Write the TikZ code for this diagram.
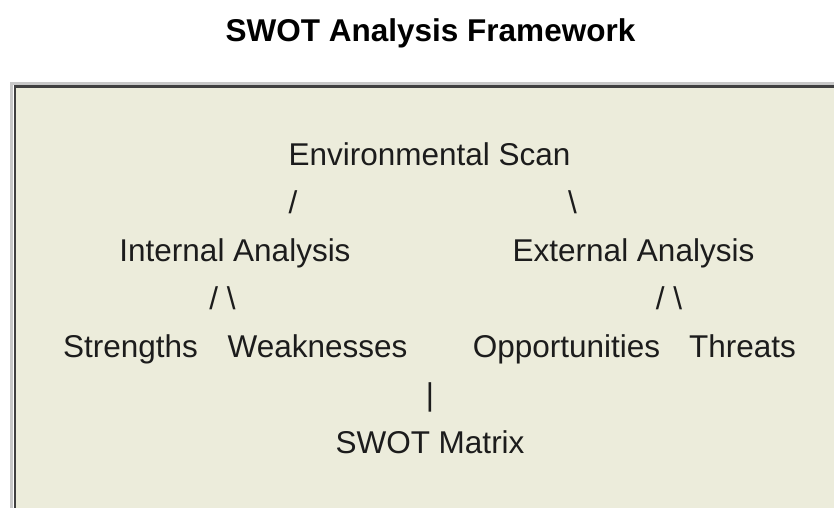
\documentclass[tikz,border=0pt]{standalone}
\usepackage{fontspec}
\setmainfont{Liberation Sans}
\definecolor{panelfill}{RGB}{236,236,219}
\definecolor{outerline}{RGB}{200,200,200}
\definecolor{innerline}{RGB}{64,64,64}
\definecolor{inkcol}{RGB}{28,28,28}
\begin{document}
\begin{tikzpicture}[x=1pt,y=-1pt,
  lbl/.style={anchor=base, inner sep=0pt, text=inkcol, font=\fontsize{31.5}{38}\selectfont},
  ttl/.style={anchor=base, inner sep=0pt, text=black, font=\fontsize{31.5}{38}\selectfont\bfseries}]
\useasboundingbox (0,0) rectangle (834,507);
\fill[white] (0,0) rectangle (834,507);
\begin{scope}
\clip (0,0) rectangle (834,507);
\fill[panelfill] (15,86) rectangle (860,530);
\draw[outerline, line width=3pt] (11.5,83) -- (11.5,530);
\draw[outerline, line width=3pt] (10,83) -- (860,83);
\draw[innerline, line width=2.5pt] (15,86.5) -- (15,530);
\draw[innerline, line width=2.5pt] (13.75,86.5) -- (860,86.5);
\end{scope}
\node[ttl] (title) at (430.5,41) {SWOT Analysis Framework};
\node[lbl] (env) at (429.5,165) {Environmental Scan};
\node[lbl] (sl1) at (293,213) {/};
\node[lbl] (bs1) at (572.5,213) {\textbackslash};
\node[lbl] (int) at (235,261) {Internal Analysis};
\node[lbl] (ext) at (633.5,261) {External Analysis};
\node[lbl] (br1) at (222.5,309) {/ \textbackslash};
\node[lbl] (br2) at (669,309) {/ \textbackslash};
\node[lbl] (str) at (130.5,357) {Strengths};
\node[lbl] (wea) at (317.5,357) {Weaknesses};
\node[lbl] (opp) at (566.5,357) {Opportunities};
\node[lbl] (thr) at (742.5,357) {Threats};
\node[lbl] (bar) at (430,405) {|};
\node[lbl] (mat) at (430,453) {SWOT Matrix};
\end{tikzpicture}
\end{document}
